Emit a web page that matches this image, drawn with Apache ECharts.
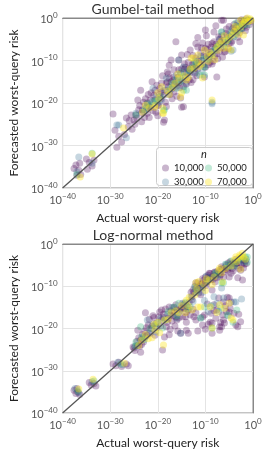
<!DOCTYPE html>
<html>
<head>
<meta charset="utf-8">
<script src="https://cdn.jsdelivr.net/npm/echarts@6/dist/echarts.min.js"></script>
<style>
html,body{margin:0;padding:0;background:#fff;}
#c{width:266px;height:450px;}
</style>
</head>
<body>
<div id="c"></div>
<script>
// log10 values: [actual, forecasted]
const seriesNames = ['10,000', '30,000', '50,000', '70,000'];
const axisTicks = [-40, -30, -20, -10, 0];
const titles = ['Gumbel-tail method', 'Log-normal method'];
const diagonal = [[-40, -40], [0, 0]];

const gumbel10k = [[-37.6,-35.4],[-37.2,-34.6],[-36.6,-35.8],[-36.2,-36.8],[-37.0,-37.0],[-36.4,-34.2],[-35.0,-33.2],[-34.4,-34.0],[-33.8,-34.8],[-33.4,-33.4],[-34.8,-35.6],
[-29.4,-22.6],[-29.0,-26.4],[-28.6,-30.4],[-28.2,-27.8],[-27.6,-29.2],[-27.0,-27.4],[-26.6,-23.5],[-26.2,-25.6],[-25.0,-24.0],[-25.4,-26.2],
[-24.6,-22.8],[-24.2,-19.3],[-24.0,-21.6],[-23.6,-17.0],[-23.2,-21.6],[-22.8,-23.4],[-22.2,-20.0],[-21.6,-19.3],[-21.2,-15.0],[-21.0,-21.8],[-20.6,-19.3],[-20.2,-15.8],[-20.0,-23.0],[-19.6,-18.0],[-19.2,-17.4],[-19.2,-15.3],[-18.8,-24.5],[-18.6,-24.0],[-18.2,-15.3],[-18.0,-12.7],[-18.0,-15.0],[-17.6,-11.1],[-17.6,-14.1],[-17.2,-15.0],[-17.2,-9.9],[-17.0,-19.0],[-16.6,-12.2],[-16.6,-17.4],[-16.2,-5.6],[-16.0,-16.0],[-15.6,-12.2],[-15.6,-9.9],[-15.2,-18.8],[-15.0,-8.7],[-15.0,-21.0],[-14.6,-20.9],[-14.2,-13.9],[-14.0,-15.5],[-13.6,-10.4],[-13.2,-12.9],[-13.2,-7.5],[-12.6,-14.5],[-12.0,-9.4],[-11.6,-6.8],[-11.6,-12.0],[-11.0,-8.2],[-10.6,-5.9],[-10.2,-13.9],[-10.0,-2.8],[-10.0,-7.1],[-9.4,-11.0],[-9.0,-10.4],[-8.6,-6.0],[-8.2,-3.3],[-8.0,-9.0],[-7.6,-13.9],[-7.0,-5.0],[-6.6,-0.5],[-6.2,-0.5],[-6.0,-8.0],[-5.4,-4.0],[-5.0,-6.0],[-4.2,-3.3],[-4.0,-1.5],[-3.2,-4.5],[-3.0,-2.2],[-2.2,-1.0],[-1.6,-3.0],[-1.0,-0.6],[-12.8,-11.0],[-14.4,-12.0],[-19.8,-20.5],[-22.0,-18.0],[-8.8,-8.0],[-6.8,-7.0],
[-23.8,-20.6],[-23.4,-22.4],[-22.6,-19.0],[-22.4,-21.2],[-21.8,-20.8],[-21.4,-17.6],[-20.8,-18.2],[-20.4,-22.2],[-19.4,-19.0],[-18.4,-17.0],[-18.4,-19.8],[-17.8,-16.2],[-17.4,-18.0],[-16.8,-14.6],[-16.4,-15.4],[-15.8,-14.0],[-15.4,-16.4],[-15.2,-13.0],[-14.8,-14.8],[-14.4,-10.8],[-13.8,-13.0],[-13.4,-14.6],[-13.0,-11.8],[-12.4,-10.6],[-12.2,-13.0],[-11.8,-11.2],[-11.4,-9.8],[-10.8,-10.0],[-10.4,-8.8],[-10.0,-11.6],[-9.6,-7.4],[-9.2,-9.2],[-8.8,-6.8],[-8.4,-10.2],[-8.0,-7.2],[-7.6,-8.4],[-7.2,-4.4],[-6.8,-5.8],[-6.4,-9.2],[-6.0,-5.2],[-5.6,-2.6],[-5.2,-7.2],[-4.8,-4.6],[-4.4,-5.4],[-3.8,-2.8],[-3.4,-1.8],[-2.8,-3.4],[-2.4,-0.4],[-1.8,-1.8],[-1.4,-0.2],[-0.8,-1.6],[-11.6,-4.6],[-13.8,-8.6],[-19.0,-13.6],[-9.8,-4.2],[-24.8,-25.0],[-23.4,-24.4],[-21.8,-23.4],
[-23.0,-19.8],[-22.2,-22.4],[-21.4,-21.0],[-20.6,-17.0],[-20.0,-20.6],[-19.6,-16.6],[-18.8,-18.2],[-18.2,-20.8],[-17.8,-13.2],[-17.0,-16.6],[-16.6,-13.8],[-16.0,-18.4],[-15.6,-15.2],[-15.0,-12.0],[-14.6,-16.2],[-14.2,-11.6],[-13.6,-12.0],[-13.0,-15.2],[-12.6,-8.8],[-12.2,-11.8],[-11.8,-13.6],[-11.2,-10.8],[-10.8,-7.0],[-10.4,-11.0],[-9.8,-9.0],[-9.4,-6.2],[-9.0,-8.6],[-8.6,-10.8],[-8.2,-5.6],[-7.8,-6.2],[-7.4,-9.6],[-7.0,-7.8],[-6.6,-4.2],[-6.2,-6.2],[-5.8,-7.8],[-5.6,-3.6],[-5.0,-2.0],[-4.6,-5.8],[-4.2,-2.4],[-3.6,-3.0],[-3.2,-1.0],[-2.8,-5.6],[-2.4,-2.6],[-2.0,-0.8],[-1.4,-2.2],[-0.6,-0.8],[-26.0,-24.2],[-25.6,-22.8],[-24.4,-23.6],[-7.8,-1.8],[-12.0,-6.0]];
const gumbel30k = [[-36.6,-32.7],[-37.0,-36.2],[-33.8,-34.2],[-28.6,-25.2],[-28.2,-25.2],[-26.6,-28.2],[-24.6,-22.4],[-21.0,-16.5],[-19.8,-20.0],[-17.4,-16.4],[-15.6,-9.9],[-14.6,-11.5],[-14.0,-12.7],[-12.6,-12.0],[-10.2,-11.5],[-8.6,-19.8],[-8.6,-20.2],[-6.6,-3.3],[-5.4,-5.5],[-4.2,-7.5],[-4.6,-7.8],[-3.0,-3.0],[-2.0,-1.6],[-17.8,-18.0],[-11.0,-9.0],[-23.0,-22.0],[-7.4,-6.6],
[-22.4,-21.0],[-20.4,-18.6],[-18.6,-16.8],[-16.6,-15.6],[-13.6,-13.2],[-12.0,-10.4],[-9.8,-9.6],[-8.0,-7.6],[-6.2,-5.8],[-5.0,-4.2],[-3.6,-3.8],[-1.6,-1.2],[-15.0,-14.6],[-10.8,-12.6],
[-21.2,-19.6],[-19.2,-19.2],[-16.2,-13.6],[-12.2,-12.8],[-9.2,-8.6],[-7.0,-5.0],[-4.4,-2.6],[-2.2,-2.4],[-14.2,-15.6],[-18.2,-14.2]];
const gumbel50k = [[-37.0,-36.8],[-33.8,-31.8],[-24.6,-22.8],[-22.2,-20.2],[-18.6,-21.6],[-18.8,-21.8],[-16.2,-14.6],[-16.0,-16.5],[-14.0,-17.0],[-14.6,-17.0],[-11.2,-13.4],[-10.2,-13.4],[-10.2,-11.5],[-8.6,-8.7],[-6.6,-3.3],[-4.6,-3.5],[-3.6,-1.2],[-1.2,-1.6],[-20.2,-19.4],[-12.8,-11.6],[-7.2,-6.4],[-5.2,-5.2],[-2.6,-2.6],
[-21.6,-20.6],[-19.4,-18.4],[-17.4,-16.8],[-15.4,-15.0],[-13.4,-12.4],[-11.8,-11.0],[-9.4,-9.8],[-8.2,-7.6],[-6.0,-6.6],[-4.0,-4.4],[-3.0,-2.0],[-1.8,-0.6],[-15.2,-12.8],
[-22.8,-21.6],[-20.8,-19.6],[-17.0,-15.4],[-14.8,-13.8],[-12.2,-10.2],[-10.4,-9.6],[-7.6,-7.0],[-5.6,-5.0],[-3.4,-3.2],[-2.2,-1.6],[-0.8,-0.4]];
const gumbel70k = [[-36.3,-37.4],[-33.8,-32.0],[-27.2,-25.9],[-22.6,-20.5],[-20.6,-21.0],[-20.6,-20.5],[-20.0,-17.6],[-19.0,-21.2],[-19.0,-22.4],[-18.8,-22.4],[-19.2,-16.2],[-15.6,-14.1],[-15.0,-17.6],[-15.2,-18.6],[-14.0,-14.6],[-13.0,-9.4],[-12.6,-9.4],[-11.6,-10.4],[-11.6,-8.7],[-10.6,-14.1],[-10.2,-7.5],[-8.6,-8.7],[-8.6,-19.3],[-7.6,-6.8],[-6.2,-7.1],[-5.2,-7.1],[-4.6,-7.5],[-2.6,-2.1],[-2.6,-0.5],[-2.0,-4.0],[-1.2,0.0],[-1.0,-0.8],[-4.0,-3.2],[-6.0,-4.2],[-9.6,-9.0],[-17.0,-16.4],
[-21.8,-21.2],[-18.0,-17.2],[-16.4,-15.4],[-14.4,-13.6],[-12.4,-11.8],[-10.8,-10.8],[-9.0,-8.2],[-7.0,-6.0],[-5.6,-5.4],[-4.4,-4.0],[-3.4,-2.6],[-1.6,-0.4],[-0.6,-0.2],[-2.2,-1.4],[-8.0,-9.8],[-13.6,-14.0],
[-23.2,-22.2],[-19.8,-19.0],[-17.6,-18.0],[-15.8,-13.2],[-13.2,-12.0],[-11.2,-11.4],[-9.4,-10.2],[-7.4,-7.6],[-6.6,-5.4],[-5.0,-4.6],[-3.8,-2.0],[-1.8,-1.0],[-0.4,-0.6],[-3.0,-3.8]];

const lognorm10k = [[-37.6,-34.6],[-37.2,-35.4],[-36.8,-35.0],[-36.4,-35.6],[-37.0,-34.2],[-34.4,-32.8],[-34.0,-33.4],[-33.4,-33.0],[-33.0,-33.6],[-29.4,-28.4],[-28.8,-28.8],[-28.2,-28.0],[-27.6,-29.0],[-26.6,-28.4],[-26.2,-28.8],[-25.2,-24.4],[-24.8,-25.2],[-24.2,-24.0],[-23.6,-25.6],
[-25.0,-24.6],[-24.2,-20.4],[-23.6,-22.7],[-23.0,-23.2],[-22.6,-16.3],[-22.6,-22.0],[-22.0,-19.2],[-21.4,-20.0],[-20.6,-21.6],[-19.6,-16.1],[-19.2,-18.0],[-19.2,-15.6],[-19.0,-25.1],[-18.6,-22.0],[-18.2,-19.6],[-17.6,-14.9],[-17.6,-21.5],[-17.0,-18.2],[-16.6,-16.1],[-16.2,-17.3],[-16.2,-14.4],[-15.6,-17.5],[-15.2,-21.1],[-15.0,-15.1],[-14.6,-14.4],[-14.0,-16.1],[-14.0,-18.5],[-14.0,-20.4],[-13.6,-21.1],[-13.2,-16.8],[-12.6,-10.9],[-12.0,-9.2],[-12.0,-16.3],[-12.0,-18.0],[-11.6,-9.2],[-11.2,-10.0],[-10.6,-10.4],[-10.6,-19.2],[-10.6,-17.3],[-10.2,-16.8],[-10.0,-7.8],[-9.6,-9.0],[-9.2,-6.9],[-9.0,-18.5],[-8.6,-10.9],[-8.6,-7.8],[-8.6,-21.1],[-8.6,-18.7],[-8.2,-14.4],[-8.0,-6.6],[-8.0,-9.0],[-7.6,-15.6],[-7.2,-12.8],[-7.0,-7.8],[-7.0,-19.6],[-7.0,-20.4],[-6.6,-19.6],[-6.2,-13.7],[-6.2,-18.0],[-6.0,-18.7],[-5.6,-16.0],[-5.2,-4.5],[-5.0,-7.8],[-5.0,-16.1],[-4.6,-13.7],[-4.6,-6.9],[-4.0,-4.5],[-3.6,-19.2],[-3.2,-8.0],[-3.2,-19.6],[-2.6,-6.2],[-2.2,-8.5],[-2.0,-5.7],[-1.6,-4.0],[-13.0,-11.4],[-11.0,-12.0],[-6.8,-6.0],[-3.6,-3.6],
[-24.4,-23.0],[-23.8,-24.2],[-23.2,-21.4],[-22.8,-20.6],[-22.2,-21.6],[-21.8,-17.8],[-21.2,-19.4],[-20.8,-17.4],[-20.2,-19.8],[-19.8,-17.2],[-18.8,-17.4],[-18.4,-15.4],[-17.8,-17.6],[-17.2,-15.8],[-16.8,-17.0],[-16.0,-15.6],[-15.4,-15.8],[-14.8,-17.2],[-14.4,-15.2],[-13.8,-14.8],[-13.4,-13.8],[-12.8,-12.4],[-12.4,-11.4],[-11.8,-10.4],[-11.4,-11.6],[-10.8,-9.4],[-10.4,-8.6],[-9.8,-9.8],[-9.4,-8.0],[-9.0,-7.0],[-8.4,-8.4],[-7.8,-7.4],[-7.4,-6.4],[-6.8,-7.2],[-6.4,-5.8],[-6.0,-6.6],[-5.6,-5.0],[-5.4,-6.2],[-4.8,-4.2],[-4.4,-5.8],[-3.8,-4.8],[-3.4,-5.2],[-3.0,-4.4],[-2.4,-3.6],[-1.8,-4.8],[-9.6,-14.2],[-8.8,-16.4],[-5.8,-14.6],[-4.8,-15.2],[-3.0,-16.6],[-2.6,-18.4],[-12.6,-15.4],[-16.4,-19.4],[-17.4,-20.2],[-11.6,-20.6],[-9.4,-19.0],[-6.4,-16.8],[-5.4,-12.6],
[-24.0,-22.2],[-23.4,-23.8],[-22.4,-19.8],[-21.6,-21.2],[-21.0,-17.0],[-20.4,-18.8],[-19.4,-19.4],[-18.8,-16.6],[-18.0,-18.6],[-17.4,-16.8],[-16.6,-15.0],[-16.0,-18.0],[-15.2,-15.4],[-14.8,-14.0],[-14.2,-17.2],[-13.6,-15.6],[-12.8,-13.2],[-12.2,-10.0],[-11.6,-10.8],[-11.0,-9.6],[-10.6,-8.2],[-10.0,-9.2],[-9.4,-7.4],[-8.8,-8.4],[-8.2,-6.8],[-7.6,-8.0],[-7.0,-6.8],[-6.6,-5.4],[-6.2,-7.8],[-5.8,-6.0],[-5.2,-5.6],[-4.6,-4.8],[-4.2,-6.4],[-3.6,-4.6],[-3.0,-5.8],[-2.4,-4.8],[-2.0,-3.8],[-1.4,-4.6],[-7.8,-17.6],[-6.8,-18.6],[-4.0,-16.4],[-10.0,-20.2],[-12.4,-17.2],[-15.8,-20.6],[-8.2,-15.8],[-5.0,-12.8]];
const lognorm30k = [[-37.4,-34.2],[-36.6,-35.2],[-33.8,-32.6],[-28.4,-28.0],[-27.4,-28.6],[-24.8,-24.2],[-22.2,-18.0],[-21.0,-19.0],[-15.2,-21.1],[-13.0,-12.5],[-10.6,-11.4],[-8.2,-12.5],[-7.6,-14.0],[-6.6,-10.4],[-6.2,-12.8],[-4.0,-13.7],[-3.6,-13.7],[-4.6,-5.4],[-2.6,-4.0],[-1.4,-3.6],[-17.0,-15.0],[-11.0,-17.5],[-9.0,-8.0],
[-23.0,-22.0],[-20.4,-20.8],[-18.0,-16.6],[-16.0,-17.6],[-14.2,-14.0],[-12.6,-13.6],[-9.8,-7.6],[-7.8,-6.8],[-5.8,-4.8],[-3.6,-4.2],[-9.4,-16.0],[-5.2,-17.0],[-2.4,-13.0],
[-21.8,-21.0],[-19.4,-17.6],[-15.4,-16.0],[-12.0,-11.0],[-8.6,-8.0],[-6.6,-6.2],[-4.2,-4.6],[-2.0,-4.2],[-7.2,-16.0],[-10.2,-13.4]];
const lognorm50k = [[-36.8,-34.8],[-33.4,-32.4],[-27.8,-28.4],[-24.6,-24.1],[-24.6,-23.2],[-23.6,-19.6],[-20.0,-18.7],[-19.0,-19.9],[-16.6,-14.9],[-15.6,-14.0],[-13.2,-14.9],[-12.2,-10.2],[-11.0,-17.5],[-10.2,-14.9],[-8.6,-19.9],[-6.6,-9.2],[-6.2,-9.2],[-5.2,-5.4],[-4.2,-18.5],[-3.2,-3.8],[-1.6,-3.1],[-1.2,-4.3],[-1.2,-3.1],
[-22.8,-22.6],[-21.6,-20.0],[-17.8,-16.0],[-16.0,-17.0],[-14.2,-13.8],[-11.8,-11.4],[-9.6,-8.8],[-8.0,-7.0],[-4.6,-4.0],[-2.6,-3.4],[-6.8,-15.2],[-3.4,-15.6],
[-23.4,-22.0],[-20.6,-19.4],[-18.4,-18.0],[-13.8,-15.4],[-10.8,-10.2],[-7.4,-7.4],[-5.6,-4.8],[-3.8,-5.2],[-2.2,-3.0],[-8.8,-14.6],[-5.4,-16.8]];
const lognorm70k = [[-36.6,-34.3],[-33.6,-32.0],[-27.0,-28.2],[-24.0,-24.0],[-22.0,-22.4],[-21.2,-22.2],[-20.6,-20.4],[-20.0,-18.5],[-18.8,-23.9],[-18.6,-18.0],[-17.2,-16.3],[-15.6,-16.3],[-14.2,-16.3],[-14.0,-13.3],[-12.2,-12.1],[-12.0,-9.2],[-11.6,-14.9],[-11.4,-8.9],[-11.0,-14.9],[-9.2,-8.5],[-9.0,-14.9],[-8.6,-19.9],[-7.2,-6.2],[-7.0,-5.7],[-7.0,-14.4],[-6.4,-9.0],[-5.0,-14.0],[-4.6,-17.5],[-4.2,-18.0],[-4.0,-3.8],[-3.0,-3.3],[-2.6,-2.9],[-2.0,-3.1],[-2.6,-6.0],[-10.0,-11.0],
[-23.4,-22.8],[-19.6,-21.0],[-17.8,-17.8],[-16.2,-15.8],[-13.4,-12.6],[-10.4,-9.4],[-8.2,-7.8],[-5.8,-5.8],[-3.6,-3.0],[-1.6,-3.6],[-2.8,-2.6],[-6.0,-15.2],[-12.8,-15.6],
[-22.6,-21.4],[-20.8,-19.0],[-15.0,-14.6],[-13.6,-14.6],[-11.8,-10.6],[-9.8,-8.2],[-8.6,-9.6],[-6.6,-6.8],[-4.6,-5.2],[-3.4,-4.2],[-2.2,-2.2],[-7.6,-16.2]];

const panels = [
  [gumbel10k, gumbel30k, gumbel50k, gumbel70k],
  [lognorm10k, lognorm30k, lognorm50k, lognorm70k]
];

const colors = ['rgba(68,1,84,0.36)', 'rgba(49,104,142,0.34)', 'rgba(53,183,121,0.38)', 'rgba(253,231,37,0.5)'];
const FONT = 'Lato';

function tickLabel(v) {
  const e = Math.round(v);
  return '{b|10}{s|' + (e === 0 ? '0' : '\u2212' + Math.abs(e)) + '}';
}
const rich = {
  b: { fontSize: 11, fontFamily: FONT, color: '#555', lineHeight: 14, verticalAlign: 'bottom' },
  s: { fontSize: 8, fontFamily: FONT, color: '#555', lineHeight: 14, verticalAlign: 'top' }
};

const grids = [
  { left: 53, top: 18, width: 200, height: 170, show: true, borderColor: '#888', borderWidth: 1 },
  { left: 53, top: 244, width: 200, height: 169, show: true, borderColor: '#888', borderWidth: 1 }
];

function axis(dim, gi) {
  const isX = dim === 'x';
  return {
    type: 'value', gridIndex: gi, min: axisTicks[0], max: axisTicks[axisTicks.length - 1], interval: 10,
    name: isX ? 'Actual worst-query risk' : 'Forecasted worst-query risk',
    nameLocation: 'middle', nameGap: isX ? 24 : 42,
    nameTextStyle: { fontFamily: FONT, fontSize: 12, color: '#222' },
    axisLine: { show: true, lineStyle: { color: '#888', width: 1 } },
    axisTick: { show: false },
    splitLine: { show: true, lineStyle: { color: '#e4e4e4', width: 1 } },
    axisLabel: { formatter: tickLabel, rich: rich, margin: isX ? 4 : 5 }
  };
}

const series = [];
panels.forEach((sets, gi) => {
  sets.forEach((d, i) => {
    series.push({
      name: seriesNames[i], type: 'scatter', xAxisIndex: gi, yAxisIndex: gi,
      data: d, symbolSize: 7, itemStyle: { color: colors[i] }, silent: true
    });
  });
  series.push({
    type: 'line', xAxisIndex: gi, yAxisIndex: gi, data: diagonal, symbol: 'none',
    lineStyle: { color: '#555', width: 1.3 }, z: 5, silent: true
  });
});

const legendText = { fontFamily: FONT, fontSize: 9.5, color: '#222', lineHeight: 9 };
const titleText = { fontFamily: FONT, fontSize: 14, lineHeight: 14, fontWeight: 'normal', color: '#333' };
const option = {
  animation: false,
  backgroundColor: '#fff',
  textStyle: { fontFamily: FONT },
  title: [
    { text: titles[0], left: 153, top: 2, padding: 0, textAlign: 'center', textStyle: titleText },
    { text: titles[1], left: 153, top: 228, padding: 0, textAlign: 'center', textStyle: titleText }
  ],
  grid: grids,
  xAxis: [axis('x', 0), axis('x', 1)],
  yAxis: [axis('y', 0), axis('y', 1)],
  legend: [
    { data: [seriesNames[0], seriesNames[1]], orient: 'vertical', left: 162, top: 163, padding: 0, itemGap: 4, itemWidth: 7, itemHeight: 7, icon: 'circle', textStyle: legendText, z: 20, selectedMode: false },
    { data: [seriesNames[2], seriesNames[3]], orient: 'vertical', left: 205, top: 163, padding: 0, itemGap: 4, itemWidth: 7, itemHeight: 7, icon: 'circle', textStyle: legendText, z: 20, selectedMode: false }
  ],
  graphic: [
    { type: 'rect', left: 156, top: 147, z: 15, shape: { width: 96, height: 38, r: 3 }, style: { fill: 'rgba(255,255,255,0.85)', stroke: '#ccc', lineWidth: 1 } },
    { type: 'text', left: 201, top: 149, z: 16, style: { text: 'n', font: 'italic 11px ' + FONT, fill: '#222' } }
  ],
  series: series
};

const chart = echarts.init(document.getElementById('c'), null, { renderer: 'canvas' });
chart.setOption(option);
</script>
</body>
</html>
